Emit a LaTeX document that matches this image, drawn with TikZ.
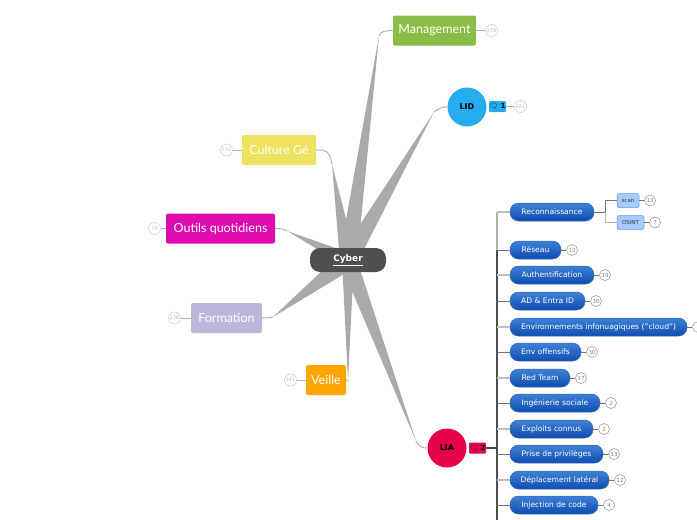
\documentclass[tikz,border=0pt]{standalone}
\usepackage{fontspec}
\usepackage{tikz}
\usetikzlibrary{positioning,calc,shapes,shapes.misc}
\setmainfont{DejaVu Sans}
\newfontfamily\handfont{Lato}
\newfontfamily\iconfont{Noto Emoji}
\definecolor{branchgray}{HTML}{A9ABA9}
\definecolor{rootgray}{HTML}{4F4F4F}
\definecolor{manage}{HTML}{8ABD45}
\definecolor{lidblue}{HTML}{26ADF0}
\definecolor{cultur}{HTML}{EEE25F}
\definecolor{outils}{HTML}{DE0BAE}
\definecolor{formation}{HTML}{BDB6DB}
\definecolor{veille}{HTML}{FFA500}
\definecolor{liared}{HTML}{E6004C}
\definecolor{topblue}{HTML}{3F80D6}
\definecolor{lowblue}{HTML}{0F4DB0}
\definecolor{subblue}{HTML}{A6CBFF}
\definecolor{subedge}{HTML}{5E9BEF}
\newcommand{\taper}[2]{\fill[branchgray] ($(ROOT)+(#2)$) -- (#1) -- ($(ROOT)-(#2)$) -- cycle;}
\begin{document}
\begin{tikzpicture}[x=1pt, y=-1pt, every node/.append style={inner sep=0pt,font=\fontsize{7.6}{9}\selectfont},
      topic/.style={rounded corners=2pt,minimum height=30pt,text=white,font=\handfont\fontsize{12.5}{14}\selectfont},
      round/.style={circle,minimum size=39pt,font=\bfseries\fontsize{8}{9}\selectfont},
      tag/.style={rounded corners=1pt,minimum width=17pt,minimum height=11pt,font=\bfseries\fontsize{7}{8}\selectfont},
      item/.style={rounded corners=8.5pt,minimum height=18pt,text height=5.5pt,text depth=1.5pt,text=white,top color=topblue,bottom color=lowblue,draw=lowblue!85,line width=.5pt},
      sub/.style={rounded corners=2pt,minimum height=14pt,fill=subblue,draw=subedge,line width=.5pt,font=\fontsize{5.5}{7}\selectfont,text=black!80},
      badge/.style={circle,draw=black!18,line width=.6pt,minimum size=12pt,text=black!25,font=\fontsize{5}{6}\selectfont},
      lbadge/.style={circle,draw=black!45,line width=.5pt,minimum size=11pt,fill=white,text=black!50,font=\fontsize{5.5}{6}\selectfont},
      link/.style={draw=black!30,line width=1pt},
      linka/.style={draw=black!25,line width=1.2pt},
      linkb/.style={draw=black!55,line width=.9pt}]
    \useasboundingbox (0,0) rectangle (697,520);
    \coordinate (ROOT) at (348,260);
    \coordinate (tipmanage) at (379,36);
    \coordinate (tiplid) at (434,112);
    \coordinate (tipculture) at (332,164);
    \coordinate (tipoutils) at (287,231);
    \coordinate (tipform) at (273,317);
    \coordinate (tipveille) at (348,381);
    \coordinate (tiplia) at (416,441);
    \coordinate (spinetop) at (497,212);
    \coordinate (spinebot) at (497,520);

    % tapered branches
    \taper{tipmanage}{9,1}
    \taper{tiplid}{8,5}
    \taper{tipculture}{8,-2}
    \taper{tipoutils}{1,8}
    \taper{tipform}{6,8}
    \taper{tipveille}{6,0}
    \taper{tiplia}{8,-3}

    \node (ROOT node) at (ROOT) [fill=rootgray,rounded corners=10pt,minimum width=76pt,minimum height=24pt,text=white,font=\bfseries\fontsize{9}{11}\selectfont] {\underline{Cyber}};

    \node (manage) at (434.5,30.5) [topic,fill=manage,minimum width=83pt] {Management};
    \node (lid) at (467,107) [round,fill=lidblue] {LID};
    \node (culture) at (279,150) [topic,fill=cultur,minimum width=74pt] {Culture Gé};
    \node (outil) at (220.5,228.5) [topic,fill=outils,minimum width=109pt] {Outils quotidiens};
    \node (form) at (226.5,318) [topic,fill=formation,minimum width=71pt] {Formation};
    \node (veil) at (326,380) [topic,fill=veille,minimum width=40pt] {Veille};
    \node (lia) at (447,448) [round,fill=liared] {LIA};

    \node (lidtag) at (497.5,106.5) [tag,fill=lidblue] {{\iconfont\symbol{"1F5E8}} 1};
    \node (liatag) at (477.5,448) [tag,fill=liared] {{\iconfont\symbol{"1F5E8}} 2};

    \node (b manage) [badge,right=9pt of manage] {278};
    \node (b lid) [badge,right=8pt of lidtag] {681};
    \node (b culture) [badge,left=9pt of culture] {232};
    \node (b outil) [badge,left=5pt of outil] {73};
    \node (b form) [badge,left=10pt of form] {238};
    \node (b veil) [badge,left=9pt of veil] {341};

    % list under LIA
    \node (recon) at (552,212) [item,minimum width=84pt] {Reconnaissance};
    \node (reseau) at (535.5,250) [item,minimum width=51pt] {Réseau};
    \node (auth) at (552,275) [item,minimum width=84pt] {Authentification};
    \node (entra) at (547.5,301) [item,minimum width=75pt] {AD \& Entra ID};
    \node (cloud) at (598.5,327) [item,minimum width=177pt] {Environnements infonuagiques ("cloud")};
    \node (offens) at (545.5,352) [item,minimum width=71pt] {Env offensifs};
    \node (redteam) at (540,378) [item,minimum width=60pt] {Red Team};
    \node (social) at (555,403) [item,minimum width=90pt] {Ingénierie sociale};
    \node (exploit) at (551.5,429) [item,minimum width=83pt] {Exploits connus};
    \node (priv) at (556.5,454) [item,minimum width=93pt] {Prise de privilèges};
    \node (lateral) at (559.5,480) [item,minimum width=99pt] {Déplacement latéral};
    \node (inject) at (554,505) [item,minimum width=88pt] {Injection de code};

    \node (scan) at (628,200.5) [sub,minimum width=22pt] {scan};
    \node (osint) at (630.5,222.5) [sub,minimum width=27pt] {OSINT};

    \node (b recon1) [lbadge,right=5pt of scan] {13};
    \node (b recon2) [lbadge,right=5pt of osint] {7};
    \node (b reseau) [lbadge,right=5pt of reseau] {13};
    \node (b auth) [lbadge,right=5pt of auth] {19};
    \node (b entra) [lbadge,right=5pt of entra] {30};
    \node (b cloud) [lbadge,right=5pt of cloud] {};
    \node (b offens) [lbadge,right=5pt of offens] {30};
    \node (b redteam) [lbadge,right=5pt of redteam] {17};
    \node (b social) [lbadge,right=5pt of social] {2};
    \node (b exploit) [lbadge,right=5pt of exploit] {2};
    \node (b priv) [lbadge,right=5pt of priv] {13};
    \node (b lateral) [lbadge,right=5pt of lateral] {12};
    \node (b inject) [lbadge,right=5pt of inject] {4};

    % thin ends of the branches
    \draw[link] (tipmanage) .. controls (381,31) and (384,31) .. (manage.west);
    \draw[link] (tiplid) .. controls (441,107) and (444,107) .. (lid.west);
    \draw[link] (tipculture) .. controls (329,150) and (326,150) .. (culture.east);
    \draw[link] (tipoutils) .. controls (283,229) and (281,228.5) .. (outil.east);
    \draw[link] (tipform) .. controls (269,318) and (267,318) .. (form.east);
    \draw[link] (tipveille) -- (veil.east);
    \draw[link] (tiplia) .. controls (420,448) and (424,448) .. (lia.west);

    \draw[link] (manage) -- (b manage);
    \draw[link] (lidtag) -- (b lid);
    \draw[link] (culture) -- (b culture);
    \draw[link] (outil) -- (b outil);
    \draw[link] (form) -- (b form);
    \draw[link] (veil) -- (b veil);

    % spine of the list
    \draw[draw=black!30,line width=1.2pt] (spinetop) -- (497,250);
    \draw[draw=black!70,line width=1.4pt] (497,250) -- (spinebot);
    \draw[draw=black!70,line width=1.6pt] (liatag) -- (liatag -| spinetop);
    \draw[linka] (recon.west) -- (recon.west -| spinetop);
    \draw[linkb] (reseau.west) -- (reseau.west -| spinetop);
    \draw[linka] (auth.west) -- (auth.west -| spinetop);
    \draw[linkb] (entra.west) -- (entra.west -| spinetop);
    \draw[linka] (cloud.west) -- (cloud.west -| spinetop);
    \draw[linkb] (offens.west) -- (offens.west -| spinetop);
    \draw[linka] (redteam.west) -- (redteam.west -| spinetop);
    \draw[linkb] (social.west) -- (social.west -| spinetop);
    \draw[linka] (exploit.west) -- (exploit.west -| spinetop);
    \draw[linkb] (priv.west) -- (priv.west -| spinetop);
    \draw[linka] (lateral.west) -- (lateral.west -| spinetop);
    \draw[linkb] (inject.west) -- (inject.west -| spinetop);

    \draw[linkb] (recon.east) -- (605,212) |- (scan.west);
    \draw[link] (605,212) |- (osint.west);

    \draw[linkb] (scan) -- (b recon1);
    \draw[linkb] (osint) -- (b recon2);
    \draw[linkb] (reseau) -- (b reseau);
    \draw[linkb] (auth) -- (b auth);
    \draw[linkb] (entra) -- (b entra);
    \draw[linkb] (cloud) -- (b cloud);
    \draw[linkb] (offens) -- (b offens);
    \draw[linkb] (redteam) -- (b redteam);
    \draw[linkb] (social) -- (b social);
    \draw[linkb] (exploit) -- (b exploit);
    \draw[linkb] (priv) -- (b priv);
    \draw[linkb] (lateral) -- (b lateral);
    \draw[linkb] (inject) -- (b inject);
  \end{tikzpicture}
\end{document}
